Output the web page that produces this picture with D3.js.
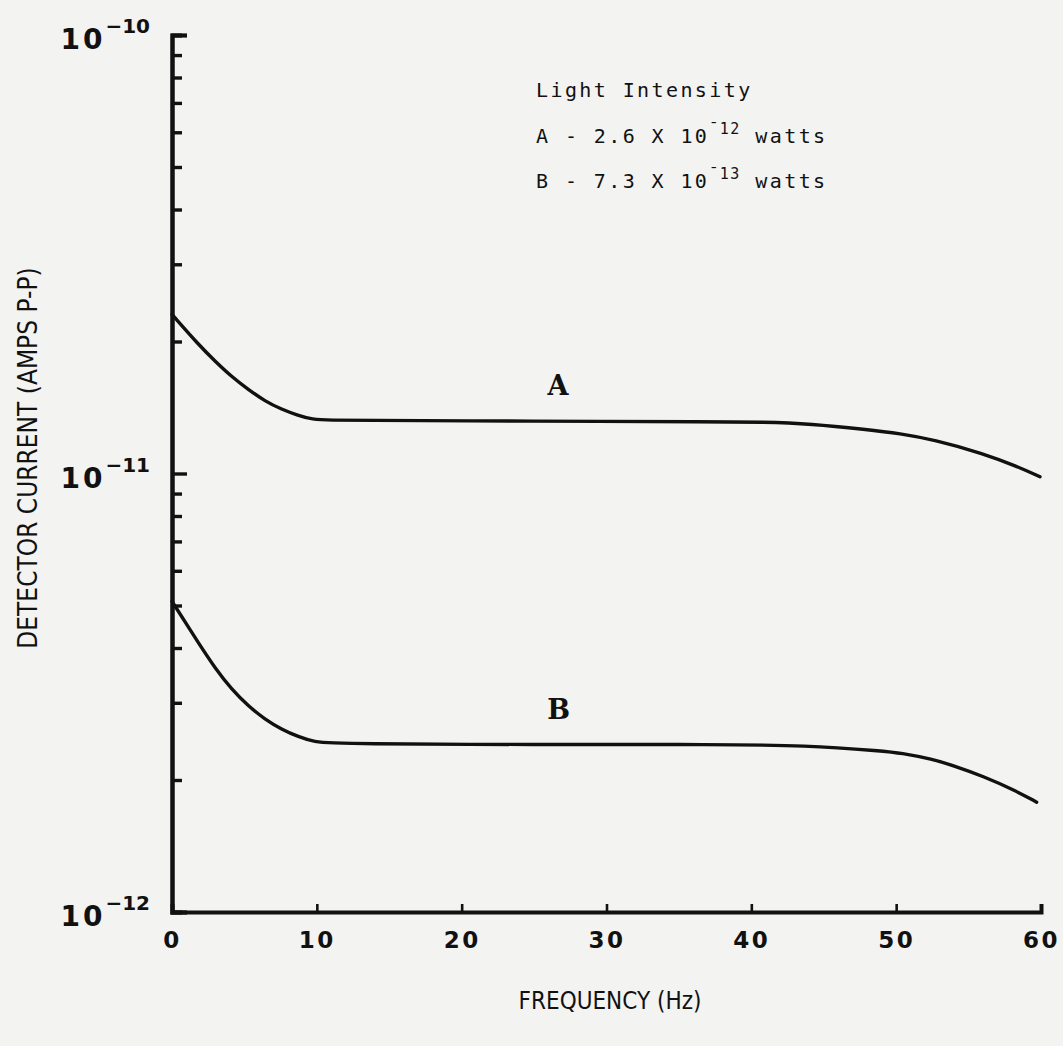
<!DOCTYPE html>
<html>
<head>
<meta charset="utf-8">
<script src="https://cdn.jsdelivr.net/npm/d3@7/dist/d3.min.js"></script>
<style>
  html, body { margin: 0; padding: 0; background: #f3f3f1; }
  svg { display: block; }
</style>
</head>
<body>
<svg id="chart" width="1063" height="1046"></svg>
<script>
// ---- data ----
const freqA = [0, 1.82, 2.97, 4.12, 5.27, 6.42, 7.57, 8.72, 9.64, 11.0, 13.3, 20, 30, 36.46, 41.06, 44.05, 47.97, 50.27, 52.57, 56.02, 58.32, 59.93];
const currentA = [2.305e-11, 1.969e-11, 1.804e-11, 1.662e-11, 1.554e-11, 1.462e-11, 1.400e-11, 1.356e-11, 1.328e-11, 1.323e-11, 1.322e-11, 1.318e-11, 1.315e-11, 1.312e-11, 1.310e-11, 1.298e-11, 1.260e-11, 1.234e-11, 1.195e-11, 1.111e-11, 1.039e-11, 0.983e-11];
const freqB = [0, 1.82, 2.97, 4.12, 5.27, 6.42, 7.57, 8.72, 9.87, 11.03, 13.33, 20, 30, 36.46, 44.05, 49.11, 50.27, 52.57, 53.72, 56.02, 58.32, 59.70];
const currentB = [5.11e-12, 4.11e-12, 3.60e-12, 3.22e-12, 2.95e-12, 2.75e-12, 2.61e-12, 2.51e-12, 2.44e-12, 2.43e-12, 2.42e-12, 2.41e-12, 2.41e-12, 2.41e-12, 2.40e-12, 2.326e-12, 2.307e-12, 2.228e-12, 2.170e-12, 2.040e-12, 1.886e-12, 1.780e-12];
const xTicks = [0, 10, 20, 30, 40, 50, 60];
const yMajor = [1e-12, 1e-11, 1e-10];
const yMajorExp = ["-12", "-11", "-10"];
const yMinor = [2e-12,3e-12,4e-12,5e-12,6e-12,7e-12,8e-12,9e-12,2e-11,3e-11,4e-11,5e-11,6e-11,7e-11,8e-11,9e-11];
const legendTitle = "Light Intensity";
const legendRows = [
  {label: "A", mant: "2.6", exp: "-12"},
  {label: "B", mant: "7.3", exp: "-13"}
];
const curveLabels = [{name: "A", f: 26.65, v: 1.514e-11}, {name: "B", f: 26.7, v: 2.75e-12}];
const xTitle = "FREQUENCY (Hz)";
const yTitle = "DETECTOR CURRENT (AMPS P-P)";

// ---- layout ----
const svg = d3.select("#chart");
const x = d3.scaleLinear().domain([0, 60]).range([172, 1041]);
const y = d3.scaleLog().domain([1e-12, 1e-10]).range([912, 35]);
const ink = "#111";

// curves
const line = d3.line().x(d => x(d[0])).y(d => y(d[1])).curve(d3.curveBasis);
[[freqA, currentA], [freqB, currentB]].forEach(([f, v]) => {
  svg.append("path")
    .datum(f.map((fi, i) => [fi, v[i]]))
    .attr("d", line)
    .attr("fill", "none")
    .attr("stroke", ink)
    .attr("stroke-width", 3.4)
    .attr("stroke-linejoin", "round")
    .attr("stroke-linecap", "round");
});

// y axis: minor + major ticks pointing into the plot
const yMinorAxis = svg.append("g").attr("transform", `translate(${x(0)},0)`)
  .call(d3.axisRight(y).tickValues(yMinor).tickSize(10).tickFormat(""));
const yMajorAxis = svg.append("g").attr("transform", `translate(${x(0)},0)`)
  .call(d3.axisRight(y).tickValues(yMajor).tickSize(15).tickFormat(""));
[yMinorAxis, yMajorAxis].forEach(g => {
  g.select(".domain").attr("stroke", ink).attr("stroke-width", 4);
  g.selectAll(".tick line").attr("stroke", ink).attr("stroke-width", 3.4);
});

// x axis
const xAxis = svg.append("g").attr("transform", `translate(0,${y(1e-12)})`)
  .call(d3.axisBottom(x).tickValues(xTicks).tickSize(-8).tickPadding(20).tickFormat(d3.format("d")));
xAxis.select(".domain").attr("stroke", ink).attr("stroke-width", 4);
xAxis.selectAll(".tick line").attr("stroke", ink).attr("stroke-width", 2.6);
xAxis.selectAll(".tick text")
  .attr("fill", ink)
  .style("font-family", "'DejaVu Sans', sans-serif")
  .style("font-weight", "bold")
  .style("font-size", "23px")
  .style("letter-spacing", "2.5px");

// y major labels with superscripts
yMajor.forEach((v, i) => {
  const t = svg.append("text")
    .attr("x", 150).attr("y", y(v) + 14)
    .attr("text-anchor", "end")
    .attr("fill", ink)
    .style("font-family", "'DejaVu Sans', sans-serif")
    .style("font-weight", "bold")
    .style("font-size", "28px");
  t.append("tspan").text("10").style("letter-spacing", "3px");
  t.append("tspan").attr("dy", -16).style("font-size", "20px").text("\u2212" + yMajorExp[i].slice(1));
});

// axis titles
const titleFont = "'DejaVu Sans Condensed', 'DejaVu Sans', sans-serif";
svg.append("text")
  .attr("x", 610).attr("y", 1009)
  .attr("text-anchor", "middle")
  .attr("fill", ink)
  .style("font-family", titleFont)
  .style("font-size", "24px")
  .text(xTitle);

svg.append("text")
  .attr("transform", `translate(37,${458}) rotate(-90)`)
  .attr("text-anchor", "middle")
  .attr("fill", ink)
  .style("font-family", titleFont)
  .style("font-size", "26px")
  .text(yTitle);

// legend
const legFont = "'DejaVu Sans Mono', 'Liberation Mono', monospace";
svg.append("text")
  .attr("x", 536).attr("y", 97)
  .attr("fill", ink)
  .style("font-family", legFont)
  .style("font-size", "20px")
  .style("letter-spacing", "2.4px")
  .text(legendTitle);
legendRows.forEach((r, i) => {
  const t = svg.append("text")
    .attr("x", 536).attr("y", 143 + i * 45)
    .attr("fill", ink)
    .style("font-family", legFont)
    .style("font-size", "20px")
    .style("letter-spacing", "2.4px");
  t.append("tspan").text(`${r.label} - ${r.mant} X 10`);
  t.append("tspan").attr("dy", -9).style("font-size", "15px").style("letter-spacing", "1.5px").text("\u00AF" + r.exp.slice(1));
  t.append("tspan").attr("dy", 9).text(" watts");
});

// curve labels
curveLabels.forEach(c => {
  svg.append("text")
    .attr("x", x(c.f)).attr("y", y(c.v))
    .attr("text-anchor", "middle")
    .attr("fill", ink)
    .style("font-family", "'DejaVu Serif', serif")
    .style("font-weight", "bold")
    .style("font-size", "27px")
    .text(c.name);
});
</script>
</body>
</html>
